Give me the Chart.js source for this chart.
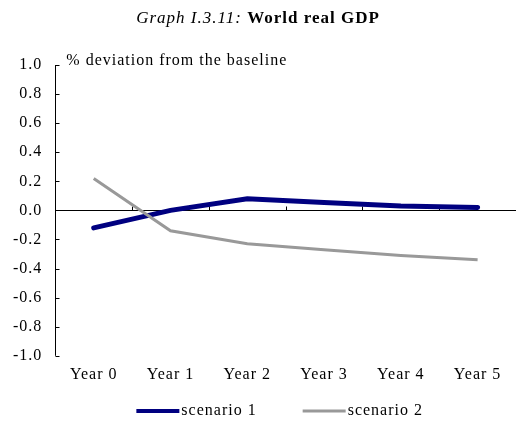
<!DOCTYPE html>
<html>
<head>
<meta charset="utf-8">
<script src="https://cdn.jsdelivr.net/npm/chart.js@4.4.1/dist/chart.umd.min.js"></script>
<style>
  html, body { margin: 0; padding: 0; background: #fff; }
  canvas { display: block; }
</style>
</head>
<body>
<canvas id="gdpChart" width="516" height="427"></canvas>
<script>
const years = ['Year 0', 'Year 1', 'Year 2', 'Year 3', 'Year 4', 'Year 5'];
const scenario1 = [-0.12, 0.0, 0.08, 0.055, 0.03, 0.02];
const scenario2 = [0.22, -0.14, -0.23, -0.27, -0.31, -0.34];
const seriesNames = ['scenario 1', 'scenario 2'];
const yMin = -1.0, yMax = 1.0, yStep = 0.2;

const serif = '"Liberation Serif", "Times New Roman", serif';

// axis lines, inner ticks, title, unit label and legend drawn by hand
const decor = {
  id: 'decor',
  beforeLayout(chart) { chart.ctx.letterSpacing = '1px'; },
  beforeDraw(chart) { chart.ctx.letterSpacing = '1px'; },
  beforeDatasetsDraw(chart) {
    const { ctx, chartArea: a, scales: { x, y } } = chart;
    ctx.save();
    ctx.strokeStyle = '#000';
    ctx.lineWidth = 1;
    ctx.beginPath();
    const ax = Math.round(a.left) + 0.5;
    ctx.moveTo(ax, a.top);
    ctx.lineTo(ax, a.bottom);
    y.ticks.forEach(t => {
      const py = Math.round(y.getPixelForValue(t.value)) + 0.5;
      ctx.moveTo(ax, py);
      ctx.lineTo(ax + 4, py);
    });
    const zy = Math.round(y.getPixelForValue(0)) + 0.5;
    ctx.moveTo(ax, zy);
    ctx.lineTo(a.right, zy);
    for (let i = 1; i < years.length; i++) {
      const bx = Math.round((x.getPixelForValue(i - 1) + x.getPixelForValue(i)) / 2) + 0.5;
      ctx.moveTo(bx, zy);
      ctx.lineTo(bx, zy - 4);
    }
    ctx.stroke();
    ctx.restore();
  },
  afterDraw(chart) {
    const { ctx, chartArea: a } = chart;
    ctx.save();
    ctx.letterSpacing = '1px';
    ctx.fillStyle = '#000';
    ctx.textBaseline = 'middle';

    // title
    const t1 = 'Graph I.3.11: ', t2 = 'World real GDP';
    ctx.font = 'italic 17px ' + serif;
    const w1 = ctx.measureText(t1).width;
    ctx.font = 'bold 17px ' + serif;
    const w2 = ctx.measureText(t2).width;
    let tx = chart.width / 2 - (w1 + w2) / 2;
    ctx.textAlign = 'left';
    ctx.font = 'italic 17px ' + serif;
    ctx.fillText(t1, tx, 19);
    ctx.font = 'bold 17px ' + serif;
    ctx.fillText(t2, tx + w1, 19);

    // unit label
    ctx.font = '16px ' + serif;
    ctx.fillText('% deviation from the baseline', a.left + 11, a.top - 4);

    // legend
    const sets = chart.data.datasets;
    const lineLen = 43, gapText = 2, gapItem = 46;
    const widths = sets.map(d => lineLen + gapText + ctx.measureText(d.label).width);
    const total = widths.reduce((s, w) => s + w, 0) + gapItem * (sets.length - 1);
    let lx = (a.left + a.right) / 2 - total / 2 - 6;
    const ly = 411;
    sets.forEach((d, i) => {
      ctx.strokeStyle = d.borderColor;
      ctx.lineWidth = d.legendWidth;
      ctx.beginPath();
      ctx.moveTo(lx, ly);
      ctx.lineTo(lx + lineLen, ly);
      ctx.stroke();
      ctx.fillText(d.label, lx + lineLen + gapText, ly);
      lx += widths[i] + gapItem;
    });
    ctx.restore();
  }
};

new Chart(document.getElementById('gdpChart'), {
  type: 'line',
  data: {
    labels: years,
    datasets: [
      {
        label: seriesNames[0],
        data: scenario1,
        borderColor: '#000080',
        borderWidth: 5,
        borderCapStyle: 'round',
        pointRadius: 0,
        legendWidth: 4,
        order: 1
      },
      {
        label: seriesNames[1],
        data: scenario2,
        borderColor: '#999999',
        borderWidth: 3,
        pointRadius: 0,
        legendWidth: 3,
        order: 0
      }
    ]
  },
  options: {
    responsive: false,
    animation: false,
    events: [],
    layout: { padding: { top: 65, left: 0, right: 0, bottom: 34 } },
    scales: {
      x: {
        offset: true,
        grid: { display: false, drawTicks: false },
        border: { display: false },
        ticks: { color: '#000', padding: 9, font: { family: serif, size: 16 } }
      },
      y: {
        min: yMin,
        max: yMax,
        grid: { display: false, drawTicks: false },
        border: { display: false },
        ticks: {
          stepSize: yStep,
          color: '#000',
          padding: 13,
          font: { family: serif, size: 16 },
          callback: v => Math.abs(v) < 1e-9 ? '0.0' : v.toFixed(1)
        }
      }
    },
    plugins: {
      legend: { display: false },
      title: { display: false },
      tooltip: { enabled: false }
    }
  },
  plugins: [decor]
});
</script>
</body>
</html>
